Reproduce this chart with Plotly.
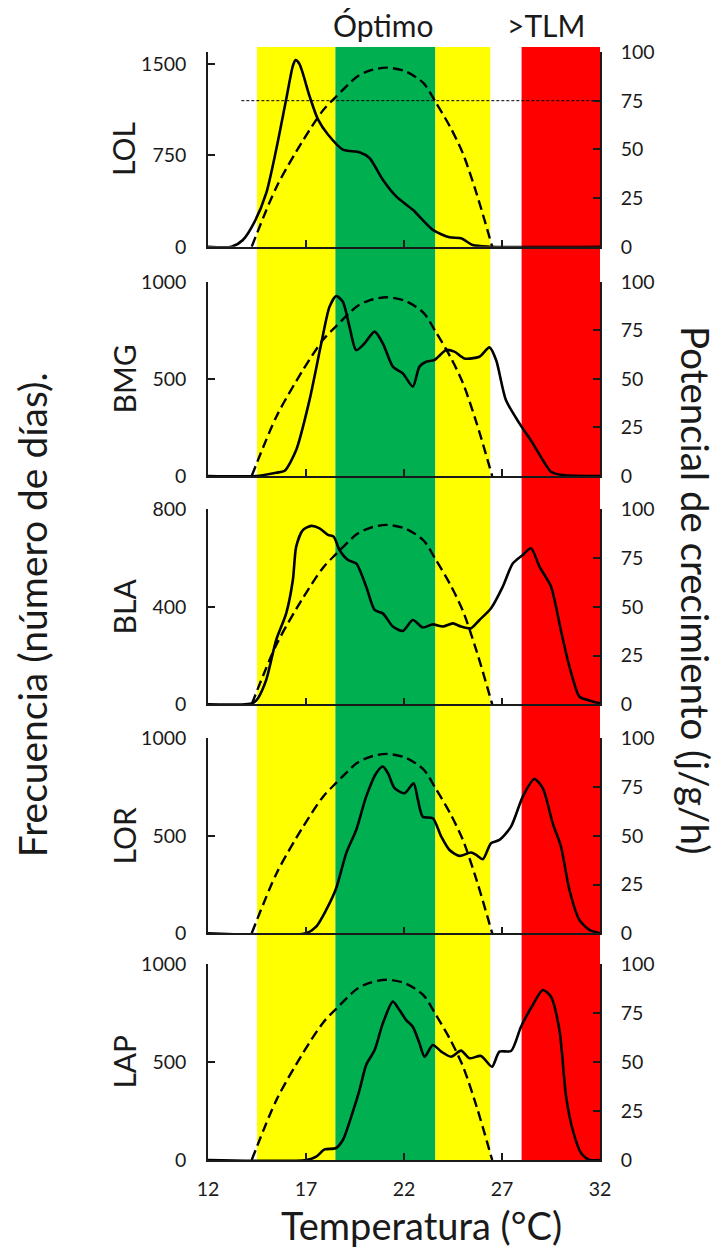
import plotly.graph_objects as go

# ---------------- data ----------------
nombres = ["LOL", "BMG", "BLA", "LOR", "LAP"]
y_max = [1600, 1000, 800, 1000, 1000]
y_ticks = [[0, 750, 1500], [0, 500, 1000], [0, 400, 800], [0, 500, 1000], [0, 500, 1000]]
pot_ticks = [0, 25, 50, 75, 100]
x_ticks = [12, 17, 22, 27, 32]

temp_lol = [12, 13.19, 13.78, 14.38, 14.97, 15.48, 15.99, 16.33, 16.47, 16.67, 17.18, 17.61, 18.12,
            18.88, 19.73, 20.24, 20.92, 21.6, 22.45, 23.47, 24.32, 24.91, 25.5, 26.36, 32]
freq_lol = [0, 0, 55, 206, 440, 798, 1211, 1486, 1533, 1500, 1238, 1046, 922,
            798, 776, 729, 550, 413, 303, 138, 77, 69, 14, 0, 0]

temp_bmg = [12, 14.46, 15.48, 15.91, 16.5, 17.18, 17.78, 18.2, 18.54, 18.88, 19.22, 19.56, 19.99,
            20.5, 20.92, 21.43, 21.94, 22.45, 22.79, 23.13, 23.55, 24.15, 24.57, 25.08, 25.85,
            26.36, 26.7, 27.2, 27.89, 28.57, 29.08, 29.5, 30.1, 32]
freq_bmg = [0, 0, 17, 27, 134, 391, 683, 871, 926, 897, 768, 648, 683,
            743, 683, 563, 528, 460, 563, 588, 597, 648, 640, 605, 614,
            662, 597, 391, 271, 168, 82, 22, 5, 0]

temp_bla = [12, 14.29, 14.55, 14.97, 15.48, 15.99, 16.33, 16.5, 16.84, 17.27, 17.69, 18.12, 18.41,
            18.71, 19.14, 19.56, 20.07, 20.5, 20.92, 21.43, 21.94, 22.45, 22.96, 23.47, 23.98,
            24.49, 24.91, 25.42, 25.85, 26.44, 27.04, 27.55, 28.06, 28.48, 28.91, 29.5, 30.0,
            30.44, 30.95, 31.37, 32]
freq_bla = [0, 5, 25, 100, 264, 373, 510, 647, 715, 732, 722, 695, 688,
            633, 592, 578, 483, 387, 373, 319, 301, 346, 315, 328, 319,
            332, 319, 312, 346, 394, 483, 578, 613, 640, 565, 483, 305,
            155, 31, 18, 4]

temp_lor = [12, 17.01, 17.52, 18.03, 18.54, 19.05, 19.56, 20.07, 20.58, 20.92, 21.18, 21.52, 22.03,
            22.49, 22.71, 22.96, 23.47, 23.9, 24.32, 24.83, 25.42, 25.68, 26.02, 26.44, 26.87,
            27.46, 28.06, 28.65, 29.08, 29.59, 30.01, 30.44, 30.95, 31.46, 32]
freq_lor = [0, 0, 34, 120, 231, 410, 530, 701, 821, 855, 821, 744, 718,
            769, 684, 598, 590, 496, 427, 397, 414, 402, 380, 462, 479,
            547, 701, 791, 744, 564, 444, 222, 68, 17, 0]

temp_lap = [12, 17.01, 17.52, 17.95, 18.51, 18.88, 19.39, 19.73, 20.07, 20.5, 20.92, 21.43, 21.77,
            22.11, 22.45, 22.79, 23.05, 23.47, 23.9, 24.4, 24.91, 25.34, 25.93, 26.49, 26.87,
            27.46, 27.97, 28.57, 29.08, 29.5, 29.93, 30.27, 30.61, 31.04, 31.46, 32]
freq_lap = [0, 0, 17, 54, 60, 102, 247, 357, 485, 561, 697, 808, 765,
            714, 680, 595, 527, 587, 553, 527, 558, 519, 531, 476, 553,
            556, 680, 791, 867, 833, 663, 323, 153, 34, 0, 0]

temp_pot = [14.23, 15.5, 16.86, 17.88, 18.53, 19.6, 20.24, 21.1, 22.1, 23.0, 23.6, 24.35, 25.0, 25.7, 26.5]
potencial = [0, 30.8, 54.8, 70.2, 77, 87.3, 90.4, 92, 90, 84, 74.5, 61.6, 48, 27.4, 0]

umbral_x = [13.7, 32]
umbral_y = [75, 75]

zonas_x0 = [14.5, 18.5, 23.6, 28.0]
zonas_x1 = [18.5, 23.6, 26.4, 32.0]
zonas_color = ["#FFFF00", "#00B050", "#FFFF00", "#FF0000"]

temps = [temp_lol, temp_bmg, temp_bla, temp_lor, temp_lap]
freqs = [freq_lol, freq_bmg, freq_bla, freq_lor, freq_lap]

# ---------------- layout ----------------
# page is 728x1255 with an 8px body margin around the figure
OFF = 8
W, H = 728 - 2 * OFF, 1255 - 2 * OFF
L, R = 208, 600.5          # page pixels of the plot area
PT, PB = 52, 1160
panel_px = [(52, 246.7), (281.7, 476), (509.3, 704.3), (738.3, 933.3), (964, 1160)]
ph = PB - PT


def fy(p):
    return (PB - p) / ph


def fx(p):
    return (p - L) / (R - L)


FONT = "Lato, 'Open Sans', sans-serif"
TXT = "#1a1a1a"
LINEC = "#1a1a1a"
TICKSZ = 19.5

fig = go.Figure()
layout = dict(
    width=W, height=H,
    margin=dict(l=L - OFF, r=W - (R - OFF), t=PT - OFF, b=H - (PB - OFF), pad=0),
    paper_bgcolor="white", plot_bgcolor="rgba(0,0,0,0)",
    showlegend=False,
    font=dict(family=FONT, color=TXT, size=TICKSZ),
)

annotations = []
for i in range(5):
    n = i + 1
    yl = 2 * i + 1
    yr = 2 * i + 2
    top, bot = panel_px[i]
    dom = [fy(bot), fy(top)]
    xname = "xaxis" if n == 1 else f"xaxis{n}"
    xa = "x" if n == 1 else f"x{n}"
    layout[xname] = dict(
        domain=[0, 1], range=[12, 32], anchor=f"y{yl}",
        tickvals=x_ticks, ticks="inside", ticklen=7, tickwidth=1.5, tickcolor=LINEC,
        showline=True, linecolor=LINEC, linewidth=1.5,
        showgrid=False, zeroline=False,
        showticklabels=(i == 4), ticklabelstandoff=11,
        tickfont=dict(size=TICKSZ, color=TXT, family=FONT),
    )
    layout[f"yaxis{yl}"] = dict(
        domain=dom, range=[0, y_max[i]], anchor=xa,
        tickvals=y_ticks[i], ticks="inside", ticklen=7, tickwidth=1.5, tickcolor=LINEC,
        showline=True, linecolor=LINEC, linewidth=1.5,
        showgrid=False, zeroline=False, ticklabelstandoff=16,
        tickfont=dict(size=TICKSZ, color=TXT, family=FONT),
    )
    layout[f"yaxis{yr}"] = dict(
        range=[0, 100], overlaying=f"y{yl}", side="right", anchor=xa,
        tickvals=pot_ticks, ticks="inside", ticklen=7, tickwidth=1.5, tickcolor=LINEC,
        showline=True, linecolor=LINEC, linewidth=1.5,
        showgrid=False, zeroline=False, ticklabelstandoff=15,
        tickfont=dict(size=TICKSZ, color=TXT, family=FONT),
    )
    fig.add_trace(go.Scatter(
        x=temps[i], y=freqs[i], xaxis=xa, yaxis=f"y{yl}", mode="lines",
        line=dict(color="black", width=2.6, shape="spline", smoothing=0.7),
        cliponaxis=False,
    ))
    fig.add_trace(go.Scatter(
        x=temp_pot, y=potencial, xaxis=xa, yaxis=f"y{yr}", mode="lines",
        line=dict(color="black", width=2.4, dash="10px,5px", shape="spline", smoothing=0.8),
        cliponaxis=False,
    ))
    if i == 0:
        fig.add_trace(go.Scatter(
            x=umbral_x, y=umbral_y, xaxis=xa, yaxis=f"y{yr}", mode="lines",
            line=dict(color="black", width=1, dash="3px,2px"),
        ))
    annotations.append(dict(
        text=nombres[i], x=fx(123.5), y=(dom[0] + dom[1]) / 2, xref="paper", yref="paper",
        textangle=-90, showarrow=False, font=dict(size=30, family=FONT, color=TXT),
        xanchor="center", yanchor="middle",
    ))

annotations += [
    dict(text="Óptimo", x=fx(383.5), y=fy(25), xref="paper", yref="paper", showarrow=False,
         font=dict(size=30, family=FONT, color=TXT), xanchor="center", yanchor="middle"),
    dict(text=">TLM", x=fx(546.5), y=fy(25), xref="paper", yref="paper", showarrow=False,
         font=dict(size=30, family=FONT, color=TXT), xanchor="center", yanchor="middle"),
    dict(text="Frecuencia (número de días).", x=fx(32), y=fy(615), xref="paper", yref="paper",
         textangle=-90, showarrow=False, font=dict(size=39, family=FONT, color=TXT),
         xanchor="center", yanchor="middle"),
    dict(text="Potencial de crecimiento (j/g/h)", x=fx(696.5), y=fy(590), xref="paper", yref="paper",
         textangle=90, showarrow=False, font=dict(size=38.5, family=FONT, color=TXT),
         xanchor="center", yanchor="middle"),
    dict(text="Temperatura (°C)", x=fx(422), y=fy(1224.5), xref="paper", yref="paper", showarrow=False,
         font=dict(size=38, family=FONT, color=TXT), xanchor="center", yanchor="middle"),
]
layout["annotations"] = annotations

shapes = []
for x0, x1, c in zip(zonas_x0, zonas_x1, zonas_color):
    shapes.append(dict(type="rect", xref="x5", yref="paper", x0=x0, x1=x1, y0=0, y1=fy(47),
                       fillcolor=c, line=dict(width=0), layer="below"))
layout["shapes"] = shapes

fig.update_layout(**layout)
fig.write_html("out.html")
